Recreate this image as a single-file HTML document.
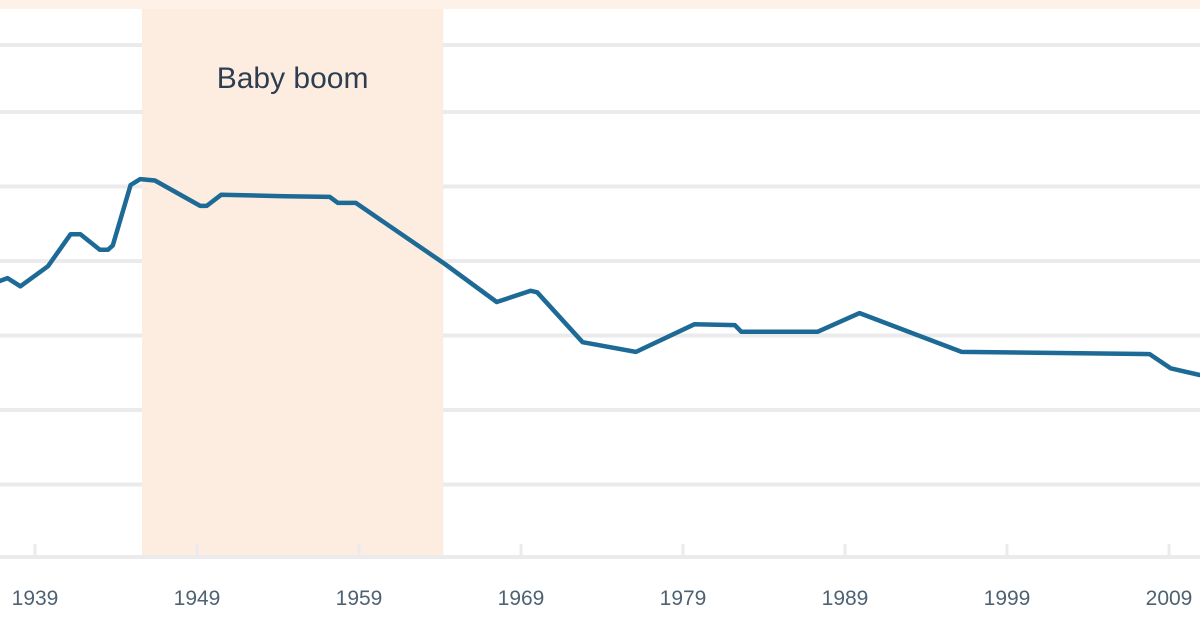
<!DOCTYPE html>
<html><head><meta charset="utf-8"><style>
html,body{margin:0;padding:0;background:#fff;}
svg{display:block;font-family:"Liberation Sans",sans-serif;}
</style></head><body>
<svg id="chart" width="1200" height="630" viewBox="0 0 1200 630" xmlns="http://www.w3.org/2000/svg">
<rect x="0" y="0" width="1200" height="9" fill="#fdf1e8"/>
<g id="grid"></g>
<rect id="boom" y="9" height="548" fill="#fdede1"/>
<text id="boomLabel" y="88" text-anchor="middle" font-size="30" fill="#2d3e50">Baby boom</text>
<line x1="0" x2="1200" y1="557" y2="557" stroke="#ebebee" stroke-width="4"/>
<g id="xaxis"></g>
<path id="line" fill="none" stroke="#1d6a96" stroke-width="4.5" stroke-linejoin="round" stroke-linecap="round"/>
</svg>
<script>
const years=[1936.8,1937.3,1938.1,1939.8,1941.2,1941.8,1943.0,1943.5,1943.8,1944.9,1945.5,1946.4,1949.2,1949.6,1950.5,1954.4,1957.2,1957.7,1958.8,1964.3,1967.5,1969.6,1970.0,1972.8,1976.1,1979.7,1982.2,1982.6,1987.3,1989.9,1996.2,2007.8,2009.1,2010.9];
const values=[3.73,3.77,3.66,3.93,4.36,4.36,4.15,4.15,4.21,5.02,5.10,5.08,4.74,4.74,4.89,4.87,4.86,4.78,4.78,3.96,3.45,3.60,3.58,2.91,2.78,3.15,3.14,3.05,3.05,3.30,2.78,2.75,2.56,2.47];
const tickYears=[1939,1949,1959,1969,1979,1989,1999,2009];
const gridValues=[1,2,3,4,5,6,6.9];
const boomStart=1945.6, boomEnd=1964.2;
const x=y=>35+(y-1939)*16.2;
const yv=v=>559-v*74.5;
const NS="http://www.w3.org/2000/svg";
const grid=document.getElementById('grid');
gridValues.forEach(v=>{
  const l=document.createElementNS(NS,'line');
  
  
  l.setAttribute('x1',0);l.setAttribute('x2',1200);
  l.setAttribute('y1',yv(v));l.setAttribute('y2',yv(v));
  l.setAttribute('stroke','#ebebee');l.setAttribute('stroke-width','4');
  grid.appendChild(l);
});
const b=document.getElementById('boom');
b.setAttribute('x',x(boomStart));b.setAttribute('width',x(boomEnd)-x(boomStart));
document.getElementById('boomLabel').setAttribute('x',(x(boomStart)+x(boomEnd))/2);
const xa=document.getElementById('xaxis');
tickYears.forEach(t=>{
  const l=document.createElementNS(NS,'line');
  
  
  l.setAttribute('x1',x(t));l.setAttribute('x2',x(t));
  l.setAttribute('y1',544);l.setAttribute('y2',557);
  l.setAttribute('stroke','#ebebee');l.setAttribute('stroke-width','3');
  xa.appendChild(l);
  const tx=document.createElementNS(NS,'text');
  
  
  tx.setAttribute('x',x(t));tx.setAttribute('y',605);
  tx.setAttribute('text-anchor','middle');tx.setAttribute('font-size','21');
  tx.setAttribute('fill','#4f6272');
  tx.textContent=t;
  xa.appendChild(tx);
});
document.getElementById('line').setAttribute('d',years.map((yr,i)=>(i?'L':'M')+x(yr).toFixed(1)+','+yv(values[i]).toFixed(1)).join(' '));
</script>
</body></html>
